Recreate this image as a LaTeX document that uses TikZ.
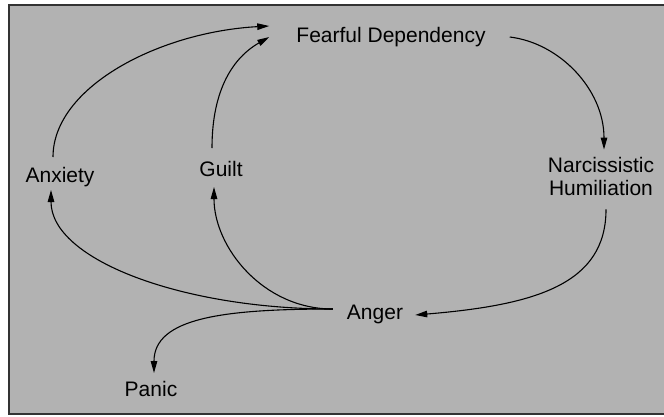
\documentclass[tikz,border=0pt]{standalone}
\usepackage{fontspec}
\setmainfont{Liberation Sans}
\usetikzlibrary{arrows.meta}

\begin{document}
\begin{tikzpicture}[x=1pt, y=-1pt,
  word/.style={font=\fontsize{21}{23}\selectfont, inner sep=0pt, text=black},
  arrow/.style={-{Triangle[length=12pt, width=6.5pt]}, line width=1.1pt, draw=black},
  backdrop/.style={fill=black!30, draw=black!80, line width=1.5pt}
]
\useasboundingbox (0,0) rectangle (664,416);

% Grey panel
\draw[backdrop] (9,5) rectangle (668,414);

% States
\node[word, anchor=base] (fear)    at (391,42)  {Fearful Dependency};
\node[word, align=center] (narc)   at (601,176) {Narcissistic\\Humiliation};
\node[word, anchor=base] (anxiety) at (60,182)  {Anxiety};
\node[word, anchor=base] (guilt)   at (221,176) {Guilt};
\node[word, anchor=base] (anger)   at (375,319) {Anger};
\node[word, anchor=base] (panic)   at (151,396) {Panic};

% Cycle: dependency -> humiliation -> anger
\draw[arrow] ([shift={(24,-5)}]fear.base east) .. controls +(50,6) and +(0,-60) .. ([shift={(3,-7)}]narc.north);
\draw[arrow] ([shift={(5,14)}]narc.south) .. controls +(0,75) and +(120,-10) .. ([shift={(12,-4)}]anger.base east);

% Anger fans out
\draw[arrow] ([shift={(-14,-10)}]anger.base west) .. controls +(-150,0) and +(0,70) .. ([shift={(-9,8)}]anxiety.base);
\draw[arrow] ([shift={(-14,-10)}]anger.base west) .. controls +(-70,0) and +(0,60) .. ([shift={(-7,11)}]guilt.base);
\draw[arrow] ([shift={(-14,-10)}]anger.base west) .. controls +(-110,0) and +(0,-55) .. ([shift={(3,-23)}]panic.base);

% Back to dependency
\draw[arrow] ([shift={(-7,-25)}]anxiety.base) .. controls +(0,-70) and +(-110,6) .. ([shift={(-27,-16)}]fear.base west);
\draw[arrow] ([shift={(-9,-28)}]guilt.base) .. controls +(0,-60) and +(-35,20) .. ([shift={(-27,-5)}]fear.base west);

\end{tikzpicture}
\end{document}
